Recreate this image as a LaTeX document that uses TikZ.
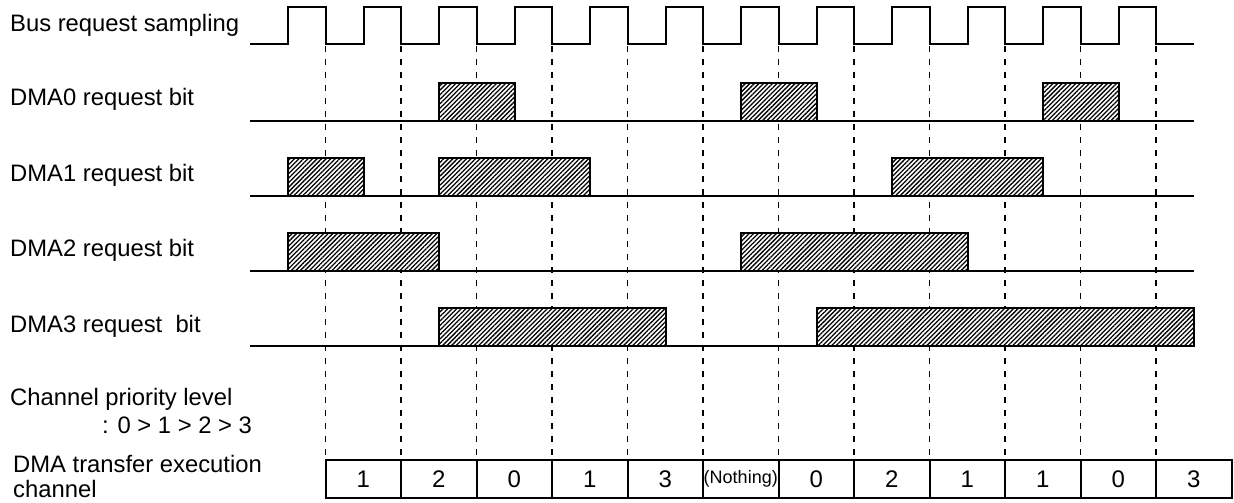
\documentclass[tikz,border=0pt]{standalone}
\usepackage{fontspec}
\setmainfont{Liberation Sans}
\usetikzlibrary{patterns.meta}
\newcommand{\nothingtxt}{{\fontsize{18}{20}\selectfont (Nothing)}}

\begin{document}
\begin{tikzpicture}[
  x=1pt, y=-1pt,
  lbl/.style={anchor=base west, inner sep=0pt, font=\fontsize{23.8}{28}\selectfont},
  sig/.style={line width=2pt, line join=miter},
  grid/.style={line width=1.3pt, dash pattern=on 6pt off 7pt},
  req/.style={draw, line width=2pt, fill=white,
    postaction={pattern={Lines[angle=45, distance=3.2pt, line width=1.3pt]}}},
  cell/.style={draw, line width=2pt, minimum width=75.5pt, minimum height=38pt,
    inner sep=0pt, font=\fontsize{24}{28}\selectfont}
]
  \useasboundingbox (0,0) rectangle (1234,503);

  % Signal names
  \node[lbl] (sampling) at (10,32) {Bus request sampling};
  \node[lbl] (bit0) at (10,106) {DMA0 request bit};
  \node[lbl] (bit1) at (10,181) {DMA1 request bit};
  \node[lbl] (bit2) at (10,256) {DMA2 request bit};
  \node[lbl] (bit3) at (10,332) {DMA3 request~~bit};
  \node[lbl] (prio) at (10,405) {Channel priority level};
  \node[lbl] (order) at (102,433) {: 0 > 1 > 2 > 3};
  \node[lbl] (exec) at (13,472) {DMA transfer execution};
  \node[lbl] (chan) at (13,497) {channel};

  % Sampling points
  \foreach \k in {0,...,11}
    \draw[grid] ({325.5+75.5*\k},46) -- ({325.5+75.5*\k},460);

  % Bus request sampling clock
  \draw[sig] (250,44) foreach \k in {0,...,11} {
      -| ({288+75.5*\k},7) -| ({325.5+75.5*\k},44) } -- (1194,44);

  % Request bits
  \foreach \y in {121,196,271,346}
    \draw[sig] (250,\y) -- (1194,\y);
  \foreach \y/\a/\b in {121/2/3, 121/6/7, 121/10/11, 196/0/1, 196/2/4, 196/8/10,
                        271/0/2, 271/6/9, 346/2/5, 346/7/12}
    \draw[req] ({288+75.5*\a},\y) rectangle ({288+75.5*\b},{\y-38});

  % Executed channel per slot
  \foreach \t [count=\i from 0] in {1,2,0,1,3,{\nothingtxt},0,2,1,1,0,3}
    \node[cell] (cell\i) at ({363.25+75.5*\i},479) {\t};
\end{tikzpicture}
\end{document}
